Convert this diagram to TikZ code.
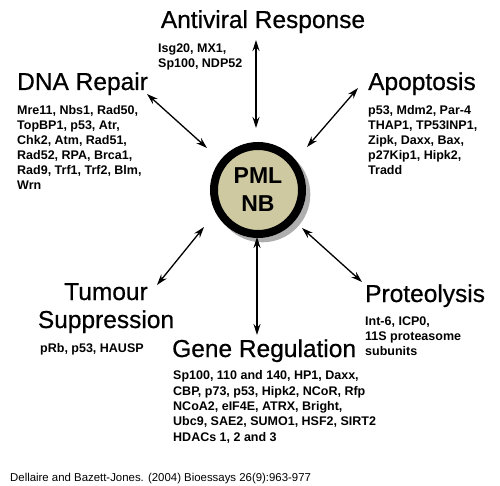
\documentclass[tikz,border=0pt]{standalone}
\usepackage{fontspec}
\setmainfont{Liberation Sans}
\newfontfamily\headfont[FakeBold=0.6]{Liberation Sans}
\usepackage{xcolor}
\usetikzlibrary{arrows.meta, shadows, positioning}
\definecolor{pmlbeige}{RGB}{206,201,160}
\tikzset{
    pml/.style={
        circle,
        draw=black,
        line width=8pt,
        fill=pmlbeige,
        minimum size=88pt,
        inner sep=0pt,
        align=center,
        font=\bfseries\fontsize{23}{28}\selectfont,
        drop shadow={shadow xshift=4pt, shadow yshift=-4pt, shadow scale=1.09, opacity=.45, fill=black!70},
    },
    heading/.style={
        inner sep=0pt,
        font=\headfont\fontsize{24.5}{28}\selectfont,
    },
    genes/.style={
        inner sep=0pt,
        align=left,
        font=\bfseries\fontsize{12.5}{15}\selectfont,
    },
    link/.style={
        <->,
        line width=1.3pt,
    },
}

\begin{document}
\begin{tikzpicture}[x=1pt, y=-1pt, >={Stealth[length=11pt, width=7pt]}]
      \useasboundingbox (0,0) rectangle (500,486);

      \node [pml] (pml) at (258,190) {PML\\NB};

      % multi-line nodes: base anchor sits on the last line
      \node [heading, anchor=base] (antiviral) at (263,28) {Antiviral Response};
      \node [genes, anchor=base west] (antiviral-genes) at (158,68) {Isg20, MX1,\\Sp100, NDP52};

      \node [heading, anchor=base west] (dna) at (17,90) {DNA Repair};
      \node [genes, anchor=base west] (dna-genes) at (17,190) {Mre11, Nbs1, Rad50,\\TopBP1, p53, Atr,\\Chk2, Atm, Rad51,\\Rad52, RPA, Brca1,\\Rad9, Trf1, Trf2, Blm,\\Wrn};

      \node [heading, anchor=base west] (apoptosis) at (368,90) {Apoptosis};
      \node [genes, anchor=base west] (apoptosis-genes) at (368,175) {p53, Mdm2, Par-4\\THAP1, TP53INP1,\\Zipk, Daxx, Bax,\\p27Kip1, Hipk2,\\Tradd};

      \node [heading, anchor=base, align=center] (tumour) at (106,328) {Tumour\\Suppression};
      \node [genes, anchor=base west] (tumour-genes) at (40,352) {pRb, p53, HAUSP};

      \node [heading, anchor=base west] (gene) at (172,357) {Gene Regulation};
      \node [genes, anchor=base west, font=\bfseries\fontsize{12.5}{15.3}\selectfont] (gene-genes) at (173,441) {Sp100, 110 and 140, HP1, Daxx,\\CBP, p73, p53, Hipk2, NCoR, Rfp\\NCoA2, eIF4E, ATRX, Bright,\\Ubc9, SAE2, SUMO1, HSF2, SIRT2\\HDACs 1, 2 and 3};

      \node [heading, anchor=base west] (proteolysis) at (365,302) {Proteolysis};
      \node [genes, anchor=base west] (proteolysis-genes) at (365,355) {Int-6, ICP0,\\11S proteasome\\subunits};

      \node [inner sep=0pt, anchor=base west, font=\fontsize{11.4}{13}\selectfont] (source) at (10,481) {Dellaire and Bazett-Jones. (2004) Bioessays 26(9):963-977};

      % arrow ends
      \coordinate (antiviral-out) at (256,40);
      \coordinate (antiviral-in) at (256,128);
      \coordinate (dna-out) at (147,94);
      \coordinate (dna-in) at (207,148);
      \coordinate (apoptosis-out) at (358,88);
      \coordinate (apoptosis-in) at (307,147);
      \coordinate (tumour-out) at (157,285);
      \coordinate (tumour-in) at (204,227);
      \coordinate (gene-out) at (257,335);
      \coordinate (gene-in) at (257,237);
      \coordinate (proteolysis-out) at (362,282);
      \coordinate (proteolysis-in) at (302,228);

      \path[link] (antiviral-out) edge (antiviral-in);
      \path[link] (dna-out) edge (dna-in);
      \path[link] (apoptosis-out) edge (apoptosis-in);
      \path[link] (tumour-out) edge (tumour-in);
      \path[link] (gene-out) edge (gene-in);
      \path[link] (proteolysis-out) edge (proteolysis-in);

    \end{tikzpicture}
\end{document}
